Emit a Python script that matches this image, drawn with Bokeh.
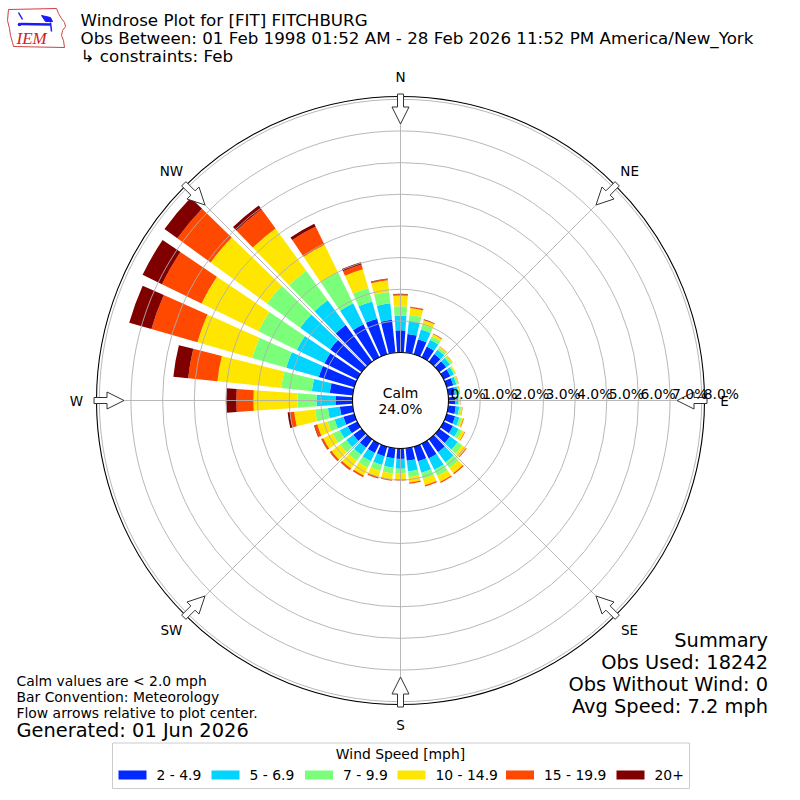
import numpy as np
from bokeh.plotting import figure
from bokeh.models import Range1d, ColumnDataSource
from bokeh.embed import file_html
from bokeh.resources import INLINE
from bokeh.core.properties import value

# ---------------- data ----------------
directions = [0, 10, 20, 30, 40, 50, 60, 70, 80, 90, 100, 110, 120, 130, 140, 150, 160, 170,
              180, 190, 200, 210, 220, 230, 240, 250, 260, 270, 280, 290, 300, 310, 320, 330, 340, 350]
speed_bins = ["2 - 4.9", "5 - 6.9", "7 - 9.9", "10 - 14.9", "15 - 19.9", "20+"]
bin_colors = ["#002aff", "#00d4ff", "#7bff7b", "#ffe600", "#ff4800", "#800000"]

# percent of observations per direction for each speed bin
pct_2_5 = [0.70, 0.60, 0.50, 0.38, 0.30, 0.27, 0.24, 0.22, 0.21, 0.21, 0.24, 0.28, 0.33, 0.42, 0.50, 0.52, 0.48, 0.40,
           0.33, 0.32, 0.32, 0.33, 0.33, 0.33, 0.34, 0.36, 0.41, 0.54, 0.73, 1.17, 1.16, 1.23, 1.43, 1.16, 1.17, 1.05]
pct_5_7 = [0.47, 0.40, 0.32, 0.24, 0.17, 0.15, 0.12, 0.10, 0.10, 0.10, 0.11, 0.14, 0.20, 0.30, 0.40, 0.40, 0.38, 0.34,
           0.31, 0.30, 0.28, 0.29, 0.27, 0.27, 0.28, 0.29, 0.38, 0.60, 0.57, 1.07, 0.97, 1.17, 0.97, 0.74, 0.57, 0.52]
pct_7_10 = [0.29, 0.20, 0.16, 0.12, 0.08, 0.07, 0.05, 0.05, 0.04, 0.04, 0.06, 0.08, 0.12, 0.18, 0.22, 0.22, 0.20, 0.18,
            0.16, 0.18, 0.20, 0.23, 0.24, 0.25, 0.25, 0.23, 0.41, 0.60, 0.97, 1.12, 1.35, 1.30, 1.15, 1.10, 0.44, 0.36]
pct_10_15 = [0.34, 0.22, 0.14, 0.08, 0.04, 0.03, 0.03, 0.02, 0.02, 0.02, 0.04, 0.05, 0.09, 0.14, 0.20, 0.20, 0.21, 0.17,
             0.18, 0.19, 0.20, 0.27, 0.30, 0.33, 0.33, 0.34, 0.66, 1.39, 2.03, 1.80, 2.00, 2.20, 1.65, 0.96, 0.62, 0.37]
pct_15_20 = [0.04, 0.03, 0.02, 0.01, 0.01, 0.01, 0.00, 0.01, 0.01, 0.01, 0.01, 0.02, 0.02, 0.03, 0.04, 0.04, 0.04, 0.04,
             0.03, 0.04, 0.05, 0.06, 0.06, 0.06, 0.06, 0.09, 0.14, 0.54, 0.93, 1.51, 1.39, 1.30, 0.75, 0.64, 0.15, 0.04]
pct_20p = [0.02, 0.01, 0.01, 0.01, 0.00, 0.00, 0.00, 0.00, 0.00, 0.00, 0.00, 0.00, 0.00, 0.00, 0.00, 0.00, 0.00, 0.00,
           0.00, 0.00, 0.00, 0.00, 0.01, 0.01, 0.01, 0.02, 0.07, 0.32, 0.47, 0.73, 0.68, 0.50, 0.15, 0.10, 0.08, 0.02]
bin_values = [pct_2_5, pct_5_7, pct_7_10, pct_10_15, pct_15_20, pct_20p]

ring_ticks = [0, 1, 2, 3, 4, 5, 6, 7, 8]
ring_labels = ["0.0%", "1.0%", "2.0%", "3.0%", "4.0%", "5.0%", "6.0%", "7.0%", "8.0%"]
compass_dirs = [0, 45, 90, 135, 180, 225, 270, 315]
compass_labels = ["N", "NE", "E", "SE", "S", "SW", "W", "NW"]
calm_pct = 24.0

title_lines = ["Windrose Plot for [FIT] FITCHBURG",
               "Obs Between: 01 Feb 1998 01:52 AM - 28 Feb 2026 11:52 PM America/New_York",
               " \u21b3 constraints: Feb"]
note_lines = ["Calm values are < 2.0 mph", "Bar Convention: Meteorology", "Flow arrows relative to plot center."]
generated_text = "Generated: 01 Jun 2026"
summary_lines = ["Summary", "Obs Used: 18242", "Obs Without Wind: 0", "Avg Speed: 7.2 mph"]
legend_title = "Wind Speed [mph]"

# ---------------- geometry ----------------
CX, CY = 400.0, 400.0
R0 = 48.0          # calm circle radius (px)
K = 31.65          # px per percent
R_SPINE = 304.0
FONT = value("DejaVu Sans")


def Y(py):
    return 800.0 - py


p = figure(width=800, height=800, x_range=Range1d(0, 800), y_range=Range1d(0, 800),
           x_axis_type=None, y_axis_type=None, toolbar_location=None,
           output_backend="svg", min_border=0, outline_line_color=None,
           background_fill_color="white", border_fill_color="white")
p.grid.visible = False

# ---------------- bars ----------------
dirs = np.array(directions, dtype=float)
vals = np.array(bin_values, dtype=float)
cum = np.cumsum(vals, axis=0)
half = np.radians(4.0)
center_ang = np.radians(90.0 - dirs)
for i in range(len(speed_bins)):
    inner = R0 + K * (cum[i] - vals[i])
    outer = R0 + K * cum[i]
    src = ColumnDataSource(dict(x=[CX] * len(dirs), y=[Y(CY)] * len(dirs),
                                inner=inner, outer=outer,
                                start=center_ang - half, end=center_ang + half))
    p.annular_wedge(x="x", y="y", inner_radius="inner", outer_radius="outer",
                    start_angle="start", end_angle="end", source=src,
                    fill_color=bin_colors[i], line_color=None)

# ---------------- grid ----------------
ring_r = [R0 + K * t for t in ring_ticks]
p.circle(x=[CX] * len(ring_r), y=[Y(CY)] * len(ring_r), radius=ring_r,
         fill_color=None, line_color="#b0b0b0", line_width=0.9)
gx0, gy0, gx1, gy1 = [], [], [], []
for d in compass_dirs:
    a = np.radians(d)
    gx0.append(CX + R0 * np.sin(a)); gy0.append(Y(CY) + R0 * np.cos(a))
    gx1.append(CX + ring_r[-1] * np.sin(a)); gy1.append(Y(CY) + ring_r[-1] * np.cos(a))
p.segment(x0=gx0, y0=gy0, x1=gx1, y1=gy1, line_color="#b0b0b0", line_width=0.9)

# outer spine
p.circle(x=[CX], y=[Y(CY)], radius=R_SPINE, fill_color=None, line_color="black", line_width=1.1)

# calm circle
p.circle(x=[CX], y=[Y(CY)], radius=R0, fill_color="white", line_color="black", line_width=1.1)
p.text(x=[CX, CX], y=[Y(392), Y(408)], text=["Calm", "%.1f%%" % calm_pct],
       text_align="center", text_baseline="middle", text_font=FONT,
       text_font_size="13.9px", text_color="black")

# ---------------- arrows ----------------
arrow_shape = [(306.5, -3.0), (293.5, -3.0), (293.5, -8.5), (276.5, 0.0),
               (293.5, 8.5), (293.5, 3.0), (306.5, 3.0)]
axs, ays = [], []
for d in compass_dirs:
    a = np.radians(d)
    u = (np.sin(a), np.cos(a))
    v = (np.cos(a), -np.sin(a))
    axs.append([CX + r * u[0] + t * v[0] for r, t in arrow_shape])
    ays.append([Y(CY) + r * u[1] + t * v[1] for r, t in arrow_shape])
p.patches(xs=axs, ys=ays, fill_color="white", line_color="#333333", line_width=1.0)

# compass labels
lx = [CX + 324 * np.sin(np.radians(d)) for d in compass_dirs]
ly = [Y(CY) + 324 * np.cos(np.radians(d)) for d in compass_dirs]
p.text(x=lx, y=ly, text=compass_labels, text_align="center", text_baseline="middle",
       text_font=FONT, text_font_size="13.5px", text_color="black")

# ring labels
p.text(x=[CX + r + 2 for r in ring_r], y=[Y(393)] * len(ring_r), text=ring_labels,
       text_align="left", text_baseline="middle", text_font=FONT,
       text_font_size="13.9px", text_color="black")

# ---------------- titles ----------------
p.text(x=[80] * 3, y=[Y(19.5), Y(37.5), Y(55.5)], text=title_lines, text_align="left",
       text_baseline="middle", text_font=FONT, text_font_size="16.7px", text_color="black")

# ---------------- logo ----------------
iowa_x = [8, 56, 58, 61, 64, 65, 62, 61, 63, 64, 13, 12, 10, 9, 7, 8]
iowa_y = [9, 8, 13, 18, 22, 26, 30, 35, 40, 47, 46, 42, 35, 28, 20, 9]
p.patch(x=iowa_x, y=[Y(v) for v in iowa_y], fill_color="white", line_color="#d04040", line_width=1.0)
p.line(x=[20, 50], y=[Y(23.5), Y(24)], line_color="#1a1aff", line_width=2.5)
p.line(x=[18, 22], y=[Y(12), Y(19)], line_color="#1a1aff", line_width=1.5)
p.line(x=[50, 51], y=[Y(22), Y(31)], line_color="#1a1aff", line_width=1.5)
p.patch(x=[41, 50, 52, 45], y=[Y(15), Y(17), Y(21), Y(21)], fill_color="#1a1aff", line_color="#1a1aff")
p.circle(x=[19], y=[Y(24)], radius=1.8, fill_color="#1a1aff", line_color=None)
p.text(x=[16], y=[Y(38)], text=["IEM"], text_align="left", text_baseline="middle",
       text_font=value("Liberation Serif"), text_font_style="italic", text_font_size="17px",
       text_color="#d02020")

# ---------------- notes & summary ----------------
p.text(x=[16] * 3, y=[Y(680), Y(696.5), Y(712.5)], text=note_lines, text_align="left",
       text_baseline="middle", text_font=FONT, text_font_size="13.9px", text_color="black")
p.text(x=[16], y=[Y(729.5)], text=[generated_text], text_align="left", text_baseline="middle",
       text_font=FONT, text_font_size="19.4px", text_color="black")
p.text(x=[767.5] * 4, y=[Y(640), Y(662), Y(684), Y(706)], text=summary_lines,
       text_align="right", text_baseline="middle", text_font=FONT,
       text_font_size="19.4px", text_color="black")

# ---------------- legend ----------------
p.quad(left=[112], right=[689], bottom=[Y(788)], top=[Y(742.5)], fill_color="white",
       line_color="#cccccc", line_width=1.0)
p.text(x=[400], y=[Y(753)], text=[legend_title], text_align="center", text_baseline="middle",
       text_font=FONT, text_font_size="13.9px", text_color="black")
patch_left = [118, 211, 304.5, 397, 505.5, 616]
p.quad(left=patch_left, right=[v + 28 for v in patch_left], bottom=[Y(779)] * 6, top=[Y(770)] * 6,
       fill_color=bin_colors, line_color=None)
p.text(x=[v + 38 for v in patch_left], y=[Y(774.5)] * 6, text=speed_bins, text_align="left",
       text_baseline="middle", text_font=FONT, text_font_size="13.9px", text_color="black")

open("out.html", "w").write(file_html(p, INLINE))
